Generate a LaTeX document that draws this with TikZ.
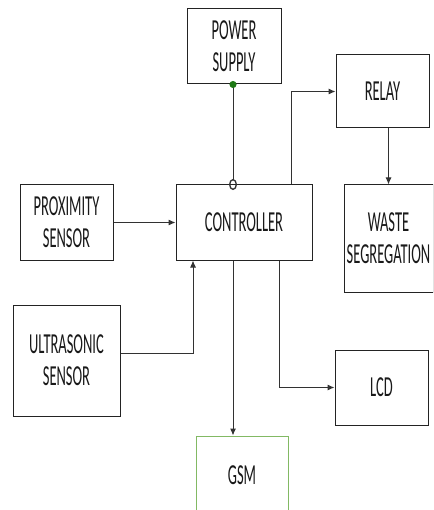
\documentclass[tikz,border=0pt]{standalone}
\usepackage{fontspec}
\usepackage{tikz}
\usetikzlibrary{arrows.meta,calc}
\newfontfamily\lblfont[FakeStretch=0.5]{Carlito}
\definecolor{BoxLine}{RGB}{35,35,35}
\definecolor{GsmLine}{RGB}{130,185,100}
\definecolor{DotFill}{RGB}{30,120,20}
\definecolor{WireLine}{RGB}{50,50,50}
\tikzset{
  nd_blk/.style={
    rectangle, draw=BoxLine, line width=1pt,
    align=center, inner sep=0pt, text=black!90,
    font=\lblfont\fontsize{29}{32}\selectfont},
  nd_gsm/.style={
    nd_blk, draw=GsmLine},
  arr/.style={-{Latex[length=7pt,width=6pt]},draw=WireLine,line width=1pt},
  pwr_wire/.style={
    {Circle[length=7pt,color=DotFill,fill=DotFill]}-{Circle[open,length=11pt,width=8pt,line width=1.3pt]},
    draw=WireLine,line width=1pt,
    shorten <=-3.5pt, shorten >=-5.5pt},
}

\begin{document}
\begin{tikzpicture}[x=1pt,y=-1pt]
\useasboundingbox (0,0) rectangle (433,510);
\clip (0,0) rectangle (433,510);
\fill[white] (0,0) rectangle (433,510);
% blocks
\node[nd_blk,minimum width=94pt,minimum height=75pt] (pwr) at (234,46.5) {POWER\\SUPPLY};
\node[nd_blk,minimum width=93pt,minimum height=73pt] (rly) at (382.5,91.5) {RELAY};
\node[nd_blk,minimum width=89pt,minimum height=107pt] (wst) at (388.5,238.5) {WASTE\\SEGREGATION};
\node[nd_blk,minimum width=93pt,minimum height=75pt] (prx) at (66.5,222.5) {PROXIMITY\\SENSOR};
\node[nd_blk,minimum width=136pt,minimum height=75pt] (ctl) at (244,222.5) {CONTROLLER};
\node[nd_blk,minimum width=107pt,minimum height=111pt] (ult) at (66.5,360.5) {ULTRASONIC\\SENSOR};
\node[nd_blk,minimum width=93pt,minimum height=75pt] (lcd) at (381.5,387.5) {LCD};
\node[nd_gsm,minimum width=92pt,minimum height=78pt] (gsm) at (242,475) {GSM};
% wires
\draw[pwr_wire] ([xshift=-1pt]pwr.south) -- ([xshift=-11pt]ctl.north);
\draw[arr] ([xshift=47pt]ctl.north) |- (rly.west);
\draw[arr] (wst.north |- rly.south) -- (wst.north);
\draw[arr] (prx.east) -- (ctl.west);
\draw[arr] ([yshift=7.5pt]ult.east) -| ([xshift=-51pt]ctl.south);
\draw[arr] ([xshift=-11pt]ctl.south) -- ([xshift=-9pt]gsm.north);
\draw[arr] ([xshift=35pt]ctl.south) |- (lcd.west);
\end{tikzpicture}
\end{document}
